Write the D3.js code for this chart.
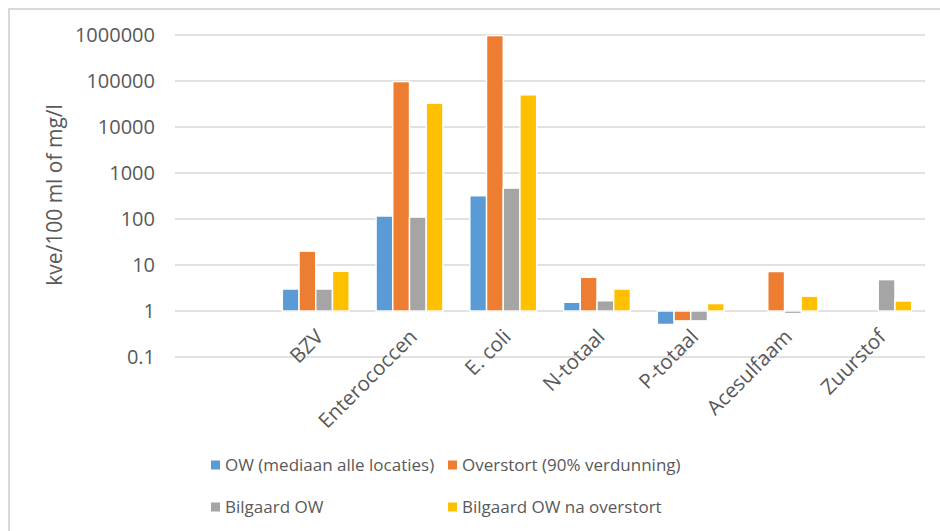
<!DOCTYPE html>
<html><head><meta charset="utf-8">
<script src="https://cdn.jsdelivr.net/npm/d3@7"></script>
<style>body{margin:0;background:#fff}svg{display:block}text{font-family:"Open Sans","Noto Sans",sans-serif;fill:#595959}</style>
</head><body>
<svg id="c" width="940" height="531"></svg>
<script>
const categories = ["", "BZV", "Enterococcen", "E. coli", "N-totaal", "P-totaal", "Acesulfaam", "Zuurstof"];
const seriesNames = ["OW (mediaan alle locaties)", "Overstort (90% verdunning)", "Bilgaard OW", "Bilgaard OW na overstort"];
const owMediaan   = [null, 3.0, 116, 320, 1.55, 0.51, null, null];
const overstort   = [null, 20, 97000, 970000, 5.4, 0.61, 7.2, null];
const bilgaardOW  = [null, 3.0, 110, 470, 1.67, 0.61, 0.88, 4.8];
const bilgaardNa  = [null, 7.3, 33000, 50000, 3.0, 1.45, 2.1, 1.65];
const yTicks = [0.1, 1, 10, 100, 1000, 10000, 100000, 1000000];
const colors = ["#5B9BD5", "#ED7D31", "#A5A5A5", "#FFC000"];
const yTitle = "kve/100 ml of mg/l";

const seriesValues = [owMediaan, overstort, bilgaardOW, bilgaardNa];
const FONT = '"Open Sans","Noto Sans",sans-serif';
const svg = d3.select("#c");

svg.append("rect").attr("x", 9).attr("y", 9).attr("width", 1000).attr("height", 1000)
  .attr("fill", "none").attr("stroke", "#D9D9D9").attr("stroke-width", 2);

const x0 = d3.scaleBand().domain(categories).range([175, 925]).padding(0);
const x1 = d3.scaleBand().domain(seriesNames).range([13.6, 13.6 + 66.8]).padding(0);
const y = d3.scaleLog().domain([0.1, 1000000]).range([357, 35]);

// gridlines
svg.append("g").selectAll("line").data(yTicks).join("line")
  .attr("x1", 175).attr("x2", 925)
  .attr("y1", d => y(d)).attr("y2", d => y(d))
  .attr("stroke", "#D9D9D9").attr("stroke-width", 1.3);

// y axis labels
const yAxis = d3.axisLeft(y).tickValues(yTicks).tickFormat(d => String(d)).tickSize(0).tickPadding(0);
const ya = svg.append("g").attr("transform", "translate(155,0)").call(yAxis);
ya.select(".domain").remove();
ya.selectAll("text").attr("font-size", 20).style("fill", "#595959").style("font-family", FONT);

// bars
const g = svg.append("g");
seriesValues.forEach((vals, si) => {
  g.append("g").selectAll("rect")
    .data(categories.map((c, i) => ({c, v: vals[i]})).filter(d => d.v != null))
    .join("rect")
    .attr("x", d => x0(d.c) + x1(seriesNames[si]))
    .attr("width", x1.bandwidth())
    .attr("y", d => Math.min(y(d.v), y(1)))
    .attr("height", d => Math.abs(y(d.v) - y(1)))
    .attr("fill", colors[si])
    .attr("stroke", "#fff").attr("stroke-width", 1.4);
});

// x labels
const xAxis = d3.axisBottom(x0).tickSize(0).tickPadding(0);
const xa = svg.append("g").call(xAxis);
xa.select(".domain").remove();
xa.selectAll(".tick").attr("transform", d => `translate(${x0(d) + x0.bandwidth() / 2 + 4},333)`);
xa.selectAll("text").attr("y", 0).attr("dy", "0.35em").attr("transform", "rotate(-45)")
  .attr("text-anchor", "end").attr("font-size", 20.5).style("fill", "#595959").style("font-family", FONT);

// y title
svg.append("text").attr("transform", "translate(55,195) rotate(-90)")
  .attr("text-anchor", "middle").attr("dy", "0.35em").attr("font-size", 21).text(yTitle);

// legend
const legPos = [[211, 465], [448, 465], [211, 507], [448, 507]];
const lg = svg.append("g");
seriesNames.forEach((n, i) => {
  const [lx, ly] = legPos[i];
  lg.append("rect").attr("x", lx).attr("y", ly - 4.5).attr("width", 9).attr("height", 9).attr("fill", colors[i]);
  lg.append("text").attr("x", lx + 14).attr("y", ly).attr("dy", "0.35em").attr("font-size", 17).text(n);
});
</script>
</body></html>
